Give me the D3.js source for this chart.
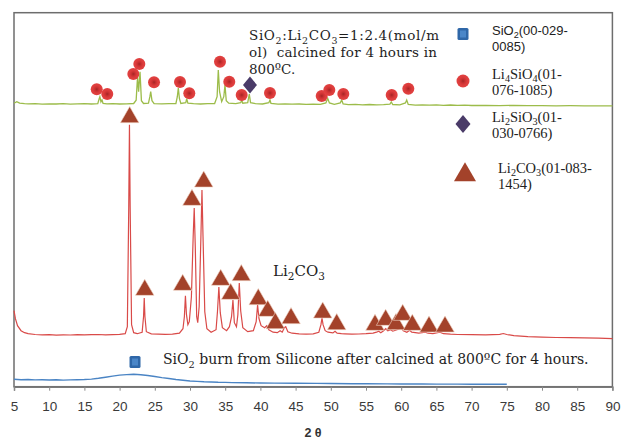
<!DOCTYPE html>
<html>
<head>
<meta charset="utf-8">
<script src="https://cdn.jsdelivr.net/npm/d3@7"></script>
<style>
  body { margin: 0; background: #fff; }
  svg { display: block; }
</style>
</head>
<body>
<svg id="chart" width="622" height="440"></svg>
<script>
// XRD patterns, x = 2 theta (deg), y = intensity (arbitrary counts, stacked)
const xTicks = [5, 10, 15, 20, 25, 30, 35, 40, 45, 50, 55, 60, 65, 70, 75, 80, 85, 90];

// top pattern: SiO2:Li2CO3 calcined
const greenTrace = [
  [5, 2834], [5.4, 2850], [5.8, 2836], [6.5, 2830], [7, 2828], [8, 2831], [9, 2826], [10, 2829],
  [11, 2827], [12, 2831], [13, 2826], [14, 2829], [15, 2831], [16, 2827], [16.9, 2830], [17.1, 2880],
  [17.2, 2900], [17.35, 2848], [17.5, 2867], [17.65, 2832], [18.2, 2828], [19, 2831], [20, 2827],
  [21, 2829], [22, 2832], [22.35, 2865], [22.55, 3100], [22.7, 2950], [22.9, 3150], [23.1, 2860],
  [23.4, 2832], [24.1, 2835], [24.3, 2900], [24.42, 2950], [24.6, 2860], [24.9, 2830], [26, 2828],
  [27, 2831], [28, 2832], [28.2, 2900], [28.34, 2987], [28.5, 2880], [28.7, 2832], [29.4, 2840],
  [29.53, 2880], [29.7, 2835], [30.5, 2830], [31.5, 2827], [32.5, 2831], [33.5, 2832], [33.85, 2900],
  [34.02, 3167], [34.2, 2950], [34.5, 2850], [34.8, 2900], [34.97, 3017], [35.15, 2860], [35.5, 2835],
  [36.5, 2830], [37.2, 2840], [37.35, 2865], [37.5, 2835], [38.2, 2840], [38.42, 2927], [38.6, 2840],
  [39.3, 2830], [40.3, 2827], [41.2, 2840], [41.36, 2867], [41.5, 2834], [42.5, 2826], [43.5, 2829],
  [44.5, 2825], [45.5, 2827], [46.5, 2824], [47.5, 2826], [48.5, 2823], [49.3, 2838], [49.56, 2884],
  [49.8, 2838], [50.5, 2824], [51.35, 2838], [51.55, 2867], [51.75, 2828], [52.5, 2821], [53.5, 2823],
  [54.5, 2819], [55.5, 2822], [56.5, 2819], [57.5, 2821], [58.4, 2826], [58.59, 2847], [58.8, 2822],
  [59.8, 2819], [60.6, 2838], [60.78, 2867], [61, 2822], [62, 2816], [63, 2819], [64, 2815],
  [65, 2818], [66, 2814], [67, 2817], [68, 2813], [69, 2816], [70, 2812], [72, 2814], [74, 2811],
  [76, 2813], [78, 2810], [80, 2811], [82, 2809], [84, 2810], [86, 2808], [88, 2809], [90, 2808]
];

// middle pattern: Li2CO3
const redTrace = [
  [5, 760], [5.2, 680], [5.5, 610], [6, 560], [6.5, 540], [7, 530], [8, 522], [9, 518], [10, 521],
  [11, 516], [12, 519], [13, 517], [14, 521], [15, 518], [16, 520], [17, 522], [18, 519], [19, 521],
  [20, 523], [20.8, 530], [21.1, 600], [21.3, 1800], [21.4, 2620], [21.5, 1800], [21.7, 620],
  [22, 540], [22.5, 530], [23.2, 545], [23.4, 700], [23.5, 887], [23.6, 700], [23.8, 550],
  [24.5, 528], [25.5, 525], [26.5, 523], [27.5, 526], [28.5, 535], [29, 580], [29.2, 700],
  [29.35, 910], [29.5, 720], [29.7, 620], [29.9, 650], [30.2, 900], [30.45, 1500], [30.6, 1787],
  [30.75, 1400], [30.95, 700], [31.1, 640], [31.3, 800], [31.55, 1500], [31.7, 1967], [31.85, 1500],
  [32.1, 750], [32.4, 580], [33, 545], [33.7, 570], [33.9, 750], [34.1, 997], [34.3, 740],
  [34.6, 590], [35.2, 560], [35.6, 600], [35.9, 700], [36.1, 867], [36.3, 640], [36.6, 600],
  [36.8, 720], [37, 1037], [37.2, 760], [37.5, 590], [38.2, 550], [39, 560], [39.4, 650],
  [39.6, 817], [39.8, 680], [40.1, 610], [40.6, 590], [40.9, 610], [41.2, 570], [41.8, 545],
  [42.4, 540], [42.8, 560], [43.1, 545], [43.4, 590], [43.6, 600], [43.9, 550], [44.5, 535],
  [45.5, 528], [46.5, 525], [47.5, 528], [48.3, 545], [48.6, 620], [48.75, 687], [48.9, 620],
  [49.2, 560], [49.6, 545], [50.3, 538], [50.6, 555], [50.9, 536], [51.5, 530], [52, 528], [53, 525],
  [54, 527], [55, 530], [56, 535], [56.5, 545], [56.8, 555], [57.1, 540], [57.5, 560], [57.8, 580],
  [58.1, 560], [58.5, 570], [58.8, 555], [59.2, 565], [59.6, 575], [60, 590], [60.3, 560],
  [60.8, 545], [61.2, 565], [61.5, 545], [62.5, 535], [63.4, 545], [63.8, 535], [64.5, 530],
  [65.5, 545], [66, 530], [67, 525], [68, 522], [70, 520], [72, 518], [74, 524], [74.5, 532],
  [75, 522], [76, 510], [78, 500], [80, 496], [82, 492], [84, 490], [86, 488], [88, 486], [90, 480]
];

// bottom pattern: SiO2 from silicone
const blueTrace = [
  [5, 74], [6, 70], [7, 72], [8, 68], [9, 70], [10, 67], [11, 69], [12, 66], [13, 68], [14, 70],
  [15, 72], [16, 76], [17, 84], [18, 95], [19, 106], [20, 116], [21, 121], [22, 124], [23, 120],
  [24, 112], [25, 102], [26, 91], [27, 82], [28, 72], [29, 64], [30, 57], [31, 53], [32, 49],
  [33, 47], [34, 44], [35, 43], [36, 41], [38, 39], [40, 37], [42, 36], [45, 34], [48, 33],
  [50, 32], [53, 30], [55, 29], [58, 28], [60, 27], [63, 27], [65, 26], [68, 26], [70, 25],
  [72, 25], [75, 24]
];

// phase markers [2theta, counts]
const li4sio4Marks = [
  [16.75, 2974], [18.25, 2927], [21.95, 3127], [22.8, 3227], [24.89, 3044], [28.58, 3047],
  [29.9, 2934], [34.26, 3250], [35.58, 3050], [37.34, 2917], [41.36, 2937], [48.71, 2907],
  [49.79, 2967], [51.78, 2927], [58.65, 2917], [61.01, 2980]
];
const li2sio3Marks = [[38.52, 3017]];
const li2co3Marks = [
  [21.43, 2694], [23.57, 967], [28.96, 1017], [30.28, 1867], [31.95, 2050], [34.36, 1067],
  [35.78, 927], [37.29, 1114], [39.7, 874], [41.04, 757], [42.12, 634], [44.35, 684],
  [48.85, 740], [50.84, 624], [56.28, 617], [57.79, 667], [59.26, 624], [60.21, 717],
  [61.58, 617], [63.95, 600], [66.22, 600]
];
const sio2Marks = [[22.19, 247]];

const legendItems = [
  { kind: "square", lines: ["SiO_2(00-029-", "0085)"], sans: true },
  { kind: "circle", lines: ["Li_4SiO_4(01-", "076-1085)"] },
  { kind: "diamond", lines: ["Li_2SiO_3(01-", "030-0766)"] },
  { kind: "triangle", lines: ["Li_2CO_3(01-083-", "1454)"] }
];

const svg = d3.select("#chart");
const plotL = 14, plotR = 612.4, plotT = 12.7, plotB = 386.7;

const x = d3.scaleLinear().domain([5, 90]).range([plotL, plotR]);
const y = d3.scaleLinear().domain([0, 3740]).range([plotB, plotT]);

const defs = svg.append("defs");
const rg = defs.append("radialGradient").attr("id", "dot");
rg.append("stop").attr("offset", "0%").attr("stop-color", "#a32626");
rg.append("stop").attr("offset", "30%").attr("stop-color", "#c83030");
rg.append("stop").attr("offset", "60%").attr("stop-color", "#db3b3b");
rg.append("stop").attr("offset", "100%").attr("stop-color", "#e24241");

const serif = "'DejaVu Serif', serif";
const lserif = "'Liberation Serif', 'Times New Roman', serif";
const sans = "'Liberation Sans', Arial, sans-serif";

// text with _n subscripts
function rich(t, str, drop = 3.5) {
  let low = false;
  str.split(/(_\d)/).forEach(p => {
    if (!p) return;
    if (p[0] === "_") {
      t.append("tspan").attr("dy", low ? 0 : drop).attr("font-size", "0.7em").text(p.slice(1));
      low = true;
    } else {
      t.append("tspan").attr("dy", low ? -drop : 0).text(p);
      low = false;
    }
  });
  return t;
}

// frame
svg.append("rect")
  .attr("x", plotL).attr("y", plotT)
  .attr("width", plotR - plotL).attr("height", plotB - plotT)
  .attr("fill", "none").attr("stroke", "#6d6d6d").attr("stroke-width", 1.5);

// x axis
const axis = svg.append("g").attr("transform", `translate(0,${plotB})`)
  .call(d3.axisBottom(x).tickValues(xTicks).tickSize(4).tickPadding(11).tickFormat(d3.format("d")));
axis.select(".domain").attr("stroke", "#7a7a7a").attr("stroke-width", 1.5);
axis.selectAll(".tick line").attr("stroke", "#8a8a8a");
axis.selectAll("text").attr("font-family", sans).attr("font-size", 13.5).attr("fill", "#3a3a3a");

svg.append("text")
  .attr("x", 313).attr("y", 437)
  .attr("text-anchor", "middle")
  .attr("font-family", sans).attr("font-size", 12.5).attr("font-weight", "bold")
  .attr("fill", "#333").text("2 θ");

const line = d3.line().x(d => x(d[0])).y(d => y(d[1]));

svg.append("path").datum(blueTrace).attr("d", line)
  .attr("fill", "none").attr("stroke", "#4a84c4").attr("stroke-width", 1.4);
svg.append("path").datum(redTrace).attr("d", line)
  .attr("fill", "none").attr("stroke", "#d94a48").attr("stroke-width", 1.2);
svg.append("path").datum(greenTrace).attr("d", line)
  .attr("fill", "none").attr("stroke", "#9cbc4a").attr("stroke-width", 1.3);

// markers
const tri = d3.symbol().type(d3.symbolTriangle).size(150);
svg.append("g").selectAll("path").data(li2co3Marks).join("path")
  .attr("transform", d => `translate(${x(d[0])},${y(d[1])})`)
  .attr("d", tri)
  .attr("fill", "#a3422a").attr("stroke", "#f2d6c8").attr("stroke-width", 0.6);

svg.append("g").selectAll("circle").data(li4sio4Marks).join("circle")
  .attr("cx", d => x(d[0])).attr("cy", d => y(d[1])).attr("r", 6)
  .attr("fill", "url(#dot)");

const diamondPath = (w, h) => `M0,${-h}L${w},0L0,${h}L${-w},0Z`;
svg.append("g").selectAll("path").data(li2sio3Marks).join("path")
  .attr("transform", d => `translate(${x(d[0])},${y(d[1])})`)
  .attr("d", diamondPath(7, 8.5))
  .attr("fill", "#4a3b68");

function square(g, cx, cy) {
  g.append("rect").attr("x", cx - 5.5).attr("y", cy - 6).attr("width", 11).attr("height", 12)
    .attr("rx", 1.5).attr("fill", "#2f67a8");
  g.append("rect").attr("x", cx - 3).attr("y", cy - 3.5).attr("width", 6).attr("height", 7)
    .attr("fill", "#4a86c8");
}
sio2Marks.forEach(d => square(svg, x(d[0]), y(d[1])));

// annotations (first two lines are justified in the original text box)
const note = ["SiO_2:Li_2CO_3=1:2.4(mol/m", "ol)\u00a0 calcined for 4 hours in", "800ºC."];
const noteWidth = [190, 188, null];
note.forEach((s, i) => {
  const t = svg.append("text").attr("x", 249).attr("y", 40 + i * 17)
    .attr("font-family", serif).attr("font-size", 13.5).attr("fill", "#1e1e1e");
  rich(t, s);
  if (noteWidth[i]) t.attr("textLength", noteWidth[i]).attr("lengthAdjust", "spacing");
});
rich(svg.append("text").attr("x", 273).attr("y", 276)
  .attr("font-family", serif).attr("font-size", 15).attr("fill", "#1e1e1e"), "Li_2CO_3");
rich(svg.append("text").attr("x", 163).attr("y", 364)
  .attr("font-family", serif).attr("font-size", 14).attr("fill", "#1e1e1e"),
  "SiO_2 burn from Silicone after calcined at 800ºC for 4 hours.");

// legend
const legendY = [34, 81, 124, 175];
const lg = svg.append("g");
legendItems.forEach((it, i) => {
  const cy = legendY[i];
  if (it.kind === "square") square(lg, 463, cy);
  if (it.kind === "circle") lg.append("circle").attr("cx", 463).attr("cy", cy).attr("r", 6.5).attr("fill", "url(#dot)");
  if (it.kind === "diamond") lg.append("path").attr("transform", `translate(463,${cy})`).attr("d", diamondPath(7.5, 9)).attr("fill", "#4a3b68");
  if (it.kind === "triangle") lg.append("path").attr("transform", `translate(465,${cy})`)
    .attr("d", d3.symbol().type(d3.symbolTriangle).size(210)).attr("fill", "#a3422a");
  const tx = it.kind === "triangle" ? 498 : 492;
  it.lines.forEach((s, j) => {
    rich(lg.append("text").attr("x", tx).attr("y", cy + (it.sans ? 1 : -2) + j * 16)
      .attr("font-family", it.sans ? sans : lserif)
      .attr("font-size", it.sans ? 13 : 14.5).attr("fill", "#222"), s, 2.5);
  });
});
</script>
</body>
</html>
